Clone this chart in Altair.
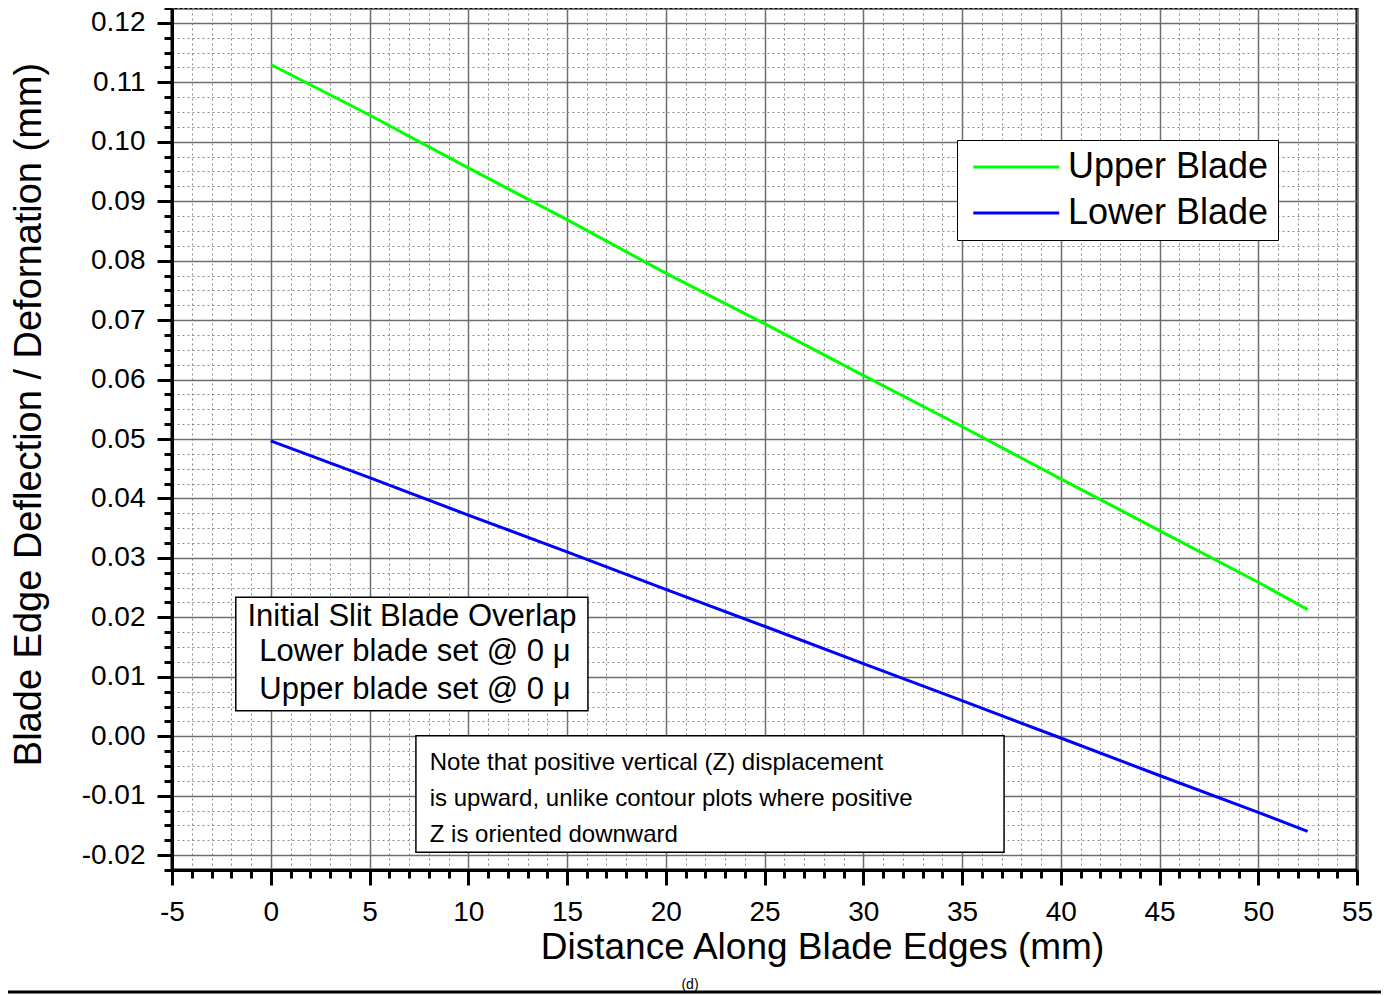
import altair as alt
import pandas as pd

# ---- data ----
x_vals = [0, 5, 10, 15, 20, 25, 30, 35, 40, 45, 50, 52.5]
upper = [0.1130, 0.1045, 0.0956, 0.0869, 0.0779, 0.0694, 0.0607, 0.0521, 0.0433, 0.0346, 0.0259, 0.0213]
lower = [0.0497, 0.0435, 0.0372, 0.0310, 0.0247, 0.0185, 0.0122, 0.0060, -0.0003, -0.0066, -0.0128, -0.0160]
series = ["Upper Blade", "Lower Blade"]
colors = ["#00FF00", "#0000FF"]

x_ticks = list(range(-5, 56))                                  # 1 mm minor ticks
y_ticks = [round(-0.0225 + 0.0025 * i, 4) for i in range(59)]  # 0.0025 minor ticks

# annotation boxes (data units)
box1 = pd.DataFrame({"x0": [-1.77], "x1": [16.06], "y0": [0.00427], "y1": [0.02337]})
box1_lines = ["Initial Slit Blade Overlap", "Lower blade set @ 0 \u03bc", "Upper blade set @ 0 \u03bc"]
box1_y = [0.02006, 0.01417, 0.00778]
box1_x = [7.15, 7.3, 7.3]

box2 = pd.DataFrame({"x0": [7.35], "x1": [37.13], "y0": [-0.0195], "y1": [0.0001]})
box2_lines = ["Note that positive vertical (Z) displacement",
              "is upward, unlike contour plots where positive",
              "Z is oriented downward"]
box2_y = [-0.0045, -0.01055, -0.01661]
box2_x = [8.05, 8.05, 8.05]

FONT = "Liberation Sans"

rows = []
for s, ys in zip(series, [upper, lower]):
    for xv, yv in zip(x_vals, ys):
        rows.append({"series": s, "x": xv, "y": yv})
df = pd.DataFrame(rows)

xscale = alt.Scale(domain=[-5, 55], nice=False, zero=False)
yscale = alt.Scale(domain=[-0.0225, 0.1225], nice=False, zero=False)

x_major = "datum.value % 5 === 0"
y_major = "abs(datum.value * 100 - round(datum.value * 100)) < 0.001"

x_axis = alt.Axis(
    values=x_ticks,
    title="Distance Along Blade Edges (mm)",
    titleFont=FONT, titleFontSize=37, titleFontWeight="normal", titleColor="black",
    titleX=650, titleY=88, titleAlign="center", titleBaseline="alphabetic",
    labelExpr=f"{x_major} ? (datum.value < 0 ? '-' + format(-datum.value, 'd') : format(datum.value, 'd')) : ''",
    labelFont=FONT, labelFontSize=28, labelColor="black", labelPadding=13,
    labelOverlap=False, labelFlush=False,
    tickSize={"condition": {"test": x_major, "value": 15}, "value": 8},
    tickWidth=3, tickColor="black",
    domainColor="black", domainWidth=3,
    grid=True,
    gridColor={"condition": {"test": x_major, "value": "#6e6e6e"}, "value": "#8a8a8a"},
    gridWidth={"condition": {"test": x_major, "value": 1.5}, "value": 1},
    gridDash={"condition": {"test": x_major, "value": []}, "value": [2, 3]},
)

y_axis = alt.Axis(
    values=y_ticks,
    title="Blade Edge Deflection / Defornation (mm)",
    titleFont=FONT, titleFontSize=38, titleFontWeight="normal", titleColor="black",
    titleX=-132, titleY=406, titleAngle=270, titleAlign="center", titleBaseline="alphabetic",
    labelExpr=f"{y_major} ? (datum.value < 0 ? '-' + format(-datum.value, '.2f') : format(datum.value, '.2f')) : ''",
    labelFont=FONT, labelFontSize=28, labelColor="black", labelPadding=12,
    labelOverlap=False, labelFlush=False,
    tickSize={"condition": {"test": y_major, "value": 15}, "value": 8},
    tickWidth=3, tickColor="black",
    domainColor="black", domainWidth=3,
    grid=True,
    gridColor={"condition": {"test": y_major, "value": "#6e6e6e"}, "value": "#8a8a8a"},
    gridWidth={"condition": {"test": y_major, "value": 1.5}, "value": 1},
    gridDash={"condition": {"test": y_major, "value": []}, "value": [2, 3]},
)

lines = alt.Chart(df).mark_line(strokeWidth=3).encode(
    x=alt.X("x:Q", scale=xscale, axis=x_axis),
    y=alt.Y("y:Q", scale=yscale, axis=y_axis),
    color=alt.Color(
        "series:N",
        scale=alt.Scale(domain=series, range=colors),
        sort=series,
        legend=alt.Legend(
            title=None, orient="none", legendX=785, legendY=132,
            symbolType="M-1,0H7", symbolSize=462, symbolStrokeWidth=3,
            labelFont=FONT, labelFontSize=36, labelColor="black",
            labelOffset=66, labelLimit=0, rowPadding=10, padding=9,
            strokeColor="black", fillColor="white",
        ),
    ),
)


def box_layer(box):
    return alt.Chart(box).mark_rect(fill="white", stroke="black", strokeWidth=1.5).encode(
        x=alt.X("x0:Q", scale=xscale, axis=x_axis),
        x2="x1:Q",
        y=alt.Y("y0:Q", scale=yscale, axis=y_axis),
        y2="y1:Q",
    )


def text_layer(lines_, xs, ys, size, align):
    t = pd.DataFrame({"t": lines_, "x": xs, "y": ys})
    return alt.Chart(t).mark_text(
        font=FONT, fontSize=size, align=align, baseline="middle", color="black"
    ).encode(
        x=alt.X("x:Q", scale=xscale, axis=x_axis),
        y=alt.Y("y:Q", scale=yscale, axis=y_axis),
        text="t:N",
    )


one = pd.DataFrame({"a": [0]})
bottom_rule = alt.Chart(one).mark_rule(color="black", strokeWidth=3).encode(
    x=alt.value(-164), x2=alt.value(1209), y=alt.value(984)
)
caption = alt.Chart(one).mark_text(font=FONT, fontSize=14, color="black", baseline="middle").encode(
    x=alt.value(518), y=alt.value(977), text=alt.value("(d)")
)

chart = alt.layer(
    lines,
    box_layer(box1),
    text_layer(box1_lines, box1_x, box1_y, 31, "center"),
    box_layer(box2),
    text_layer(box2_lines, box2_x, box2_y, 24, "left"),
    bottom_rule,
    caption,
).properties(
    width=1185, height=862,
    autosize=alt.AutoSizeParams(type="none"),
    padding={"left": 164, "top": 0, "right": 24, "bottom": 124},
).configure(
    background="white",
    view=alt.ViewConfig(stroke="black", strokeWidth=3),
)

chart.save("out.html", embed_options={"renderer": "svg", "actions": False})
